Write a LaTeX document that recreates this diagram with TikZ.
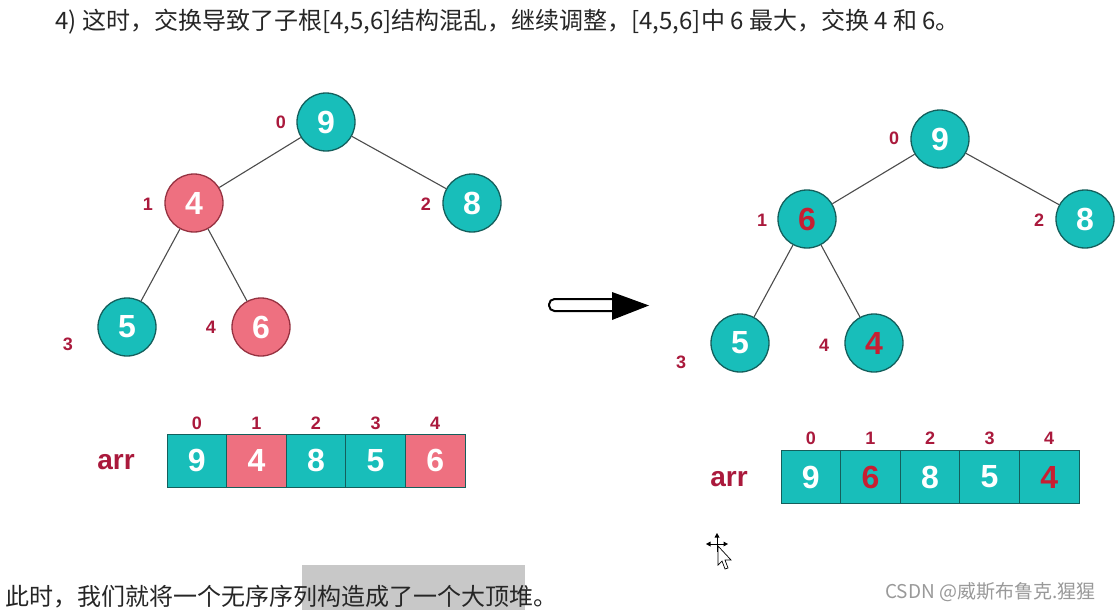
\documentclass[tikz,border=0pt]{standalone}
\usepackage{fontspec}
\setmainfont{Liberation Sans}
\newfontfamily\cjk{Noto Sans CJK SC}
\definecolor{tealfill}{RGB}{24,190,186}
\definecolor{tealdark}{RGB}{20,95,92}
\definecolor{pinkfill}{RGB}{238,112,128}
\definecolor{pinkdark}{RGB}{150,50,65}
\definecolor{labred}{RGB}{170,25,60}
\definecolor{numred}{RGB}{200,30,50}
\definecolor{hl}{RGB}{200,200,200}
\begin{document}
\begin{tikzpicture}[x=1pt,y=-1pt,
  tnode/.style={circle, draw=tealdark, line width=1.3pt, minimum size=58pt, inner sep=0pt, fill=tealfill, text=white, font=\fontsize{32}{32}\selectfont\bfseries},
  pnode/.style={tnode, fill=pinkfill, draw=pinkdark},
  idx/.style={text=labred, font=\fontsize{18}{18}\selectfont\bfseries, inner sep=0pt},
  cell/.style={draw=tealdark, line width=1pt, minimum width=59.6pt, minimum height=53pt, inner sep=0pt, outer sep=0pt, fill=tealfill, text=white, font=\fontsize{32}{32}\selectfont\bfseries},
  pcell/.style={cell, fill=pinkfill},
  tedge/.style={draw=black!70, line width=1.1pt},
  arrlab/.style={text=labred, font=\fontsize{28}{28}\selectfont\bfseries, inner sep=0pt},
  cjktext/.style={anchor=west, inner sep=0pt, text=black!85}
]
\useasboundingbox (0,0) rectangle (1117,610);
\fill[white] (0,0) rectangle (1117,610);

% top text
\node[cjktext, font=\cjk\fontsize{24}{24}\selectfont] (top) at (55,22) {4)\ 这时，交换导致了子根[4,5,6]结构混乱，继续调整，[4,5,6]中 6 最大，交换 4 和 6。};

% left tree
\node[tnode] (a0) at (326,122) {9};
\node[pnode] (a1) at (194,203) {4};
\node[tnode] (a2) at (472,203) {8};
\node[tnode] (a3) at (127,327) {5};
\node[pnode] (a4) at (261,327) {6};
\draw[tedge] (a0) -- (a1);
\draw[tedge] (a0) -- (a2);
\draw[tedge] (a1) -- (a3);
\draw[tedge] (a1) -- (a4);
\node[idx] (la0) at (281,122) {0};
\node[idx] (la1) at (148,204) {1};
\node[idx] (la2) at (426,204) {2};
\node[idx] (la3) at (68,344) {3};
\node[idx] (la4) at (211,327) {4};

% left array
\node[arrlab] (arrL) at (116,462) {arr};
\node[cell]  (c0) at (196.8,460.5) {9};
\node[pcell] (c1) at (256.4,460.5) {4};
\node[cell]  (c2) at (316.0,460.5) {8};
\node[cell]  (c3) at (375.6,460.5) {5};
\node[pcell] (c4) at (435.2,460.5) {6};
\node[idx] (ci0) at (196.8,423) {0};
\node[idx] (ci1) at (256.4,423) {1};
\node[idx] (ci2) at (316.0,423) {2};
\node[idx] (ci3) at (375.6,423) {3};
\node[idx] (ci4) at (435.2,423) {4};

% arrow
\draw[line width=2pt, fill=white, rounded corners=5.5pt] (614,299) -- (549,299) -- (549,311) -- (614,311);
\draw[line width=2pt] (614,299) -- (614,311);
\fill[black] (612,292) -- (649,305.5) -- (612,320) -- cycle;

% right tree
\node[tnode] (b0) at (940,139) {9};
\node[tnode] (b1) at (807,219) {\textcolor{numred}{6}};
\node[tnode] (b2) at (1085,219) {8};
\node[tnode] (b3) at (740,343) {5};
\node[tnode] (b4) at (874,343) {\textcolor{numred}{4}};
\draw[tedge] (b0) -- (b1);
\draw[tedge] (b0) -- (b2);
\draw[tedge] (b1) -- (b3);
\draw[tedge] (b1) -- (b4);
\node[idx] (lb0) at (894,138) {0};
\node[idx] (lb1) at (762,220) {1};
\node[idx] (lb2) at (1039,220) {2};
\node[idx] (lb3) at (681,362) {3};
\node[idx] (lb4) at (824,345) {4};

% right array
\node[arrlab] (arrR) at (729,479) {arr};
\node[cell] (d0) at (810.8,477) {9};
\node[cell] (d1) at (870.4,477) {\textcolor{numred}{6}};
\node[cell] (d2) at (930.0,477) {8};
\node[cell] (d3) at (989.6,477) {5};
\node[cell] (d4) at (1049.2,477) {\textcolor{numred}{4}};
\node[idx] (di0) at (810.8,438) {0};
\node[idx] (di1) at (870.4,438) {1};
\node[idx] (di2) at (930.0,438) {2};
\node[idx] (di3) at (989.6,438) {3};
\node[idx] (di4) at (1049.2,438) {4};

% cursor
\draw[line width=0.8pt] (709,544) -- (725,544) (717,536) -- (717,552);
\fill (717,533) -- (714.5,537.5) -- (719.5,537.5) -- cycle;
\fill (706,544) -- (710.5,541.5) -- (710.5,546.5) -- cycle;
\fill (728,544) -- (723.5,541.5) -- (723.5,546.5) -- cycle;
\draw[fill=white, line width=0.7pt] (718,546) -- (718,565) -- (722,561) -- (725,569) -- (728,568) -- (725,560) -- (731,560) -- cycle;

% bottom
\fill[hl] (302,565) rectangle (525,610);
\node[cjktext, font=\cjk\fontsize{24}{24}\selectfont] (bottom) at (5,597) {此时，我们就将一个无序序列构造成了一个大顶堆。};
\node[cjktext, text=black!40, font=\cjk\fontsize{19}{19}\selectfont] (wm) at (885,592) {CSDN @威斯布鲁克.猩猩};
\end{tikzpicture}
\end{document}
